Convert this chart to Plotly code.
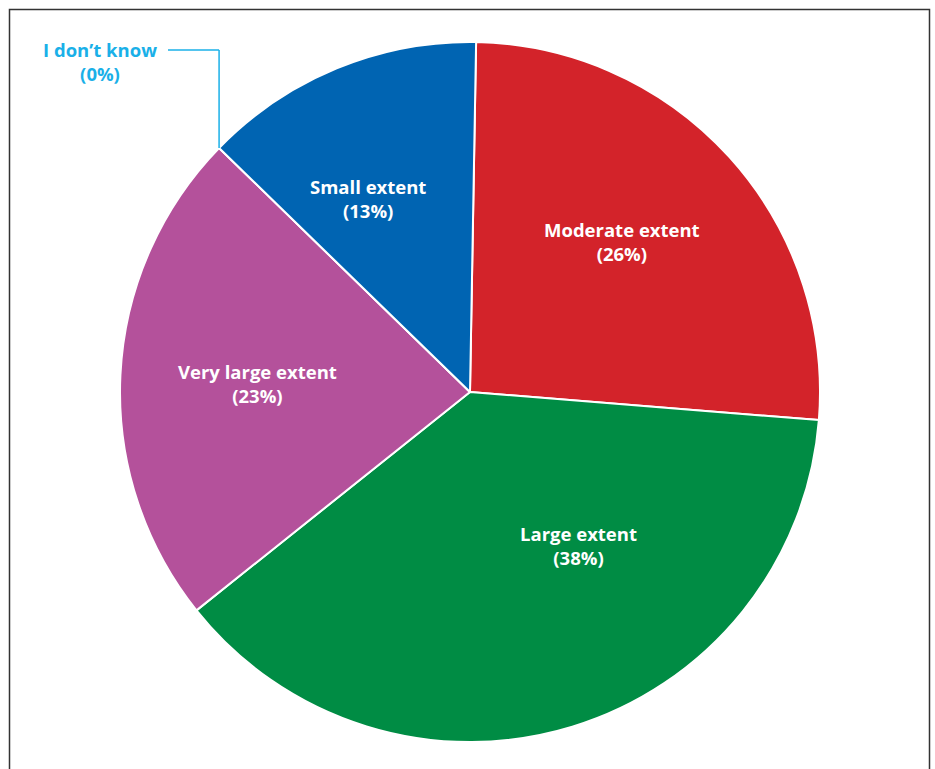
import math
import plotly.graph_objects as go

# Survey responses, in clockwise order from 12 o'clock
categories = ["Moderate extent", "Large extent", "Very large extent", "I don’t know", "Small extent"]
shares = [26, 38, 23, 0, 13]
colors = ["#D3232A", "#008C44", "#B4519B", "#1AB0E8", "#0064B2"]

W, H = 935, 769
start_deg = 1.0
pie_x = [120 / W, 820 / W]
pie_y = [27 / H, 727 / H]

# Label anchor points (pixels from top-left) for each category
label_pos = {
    "Moderate extent": (622, 241),
    "Large extent": (578, 545),
    "Very large extent": (257, 383),
    "I don’t know": (100, 62),
    "Small extent": (368, 199),
}

fig = go.Figure(
    go.Pie(
        labels=categories,
        values=shares,
        sort=False,
        direction="clockwise",
        rotation=start_deg,
        marker=dict(colors=colors, line=dict(color="white", width=2)),
        textinfo="none",
        hoverinfo="label+value",
        showlegend=False,
        domain=dict(x=pie_x, y=pie_y),
    )
)

def px(x):
    return x / W

def py(y):
    return 1 - y / H

# Leader for the zero-share slice: find the boundary angle from the data
total = sum(shares)
zero_idx = shares.index(0)
ang = math.radians(start_deg + 360 * sum(shares[:zero_idx]) / total)
cx = (pie_x[0] + pie_x[1]) / 2 * W
cy = H - (pie_y[0] + pie_y[1]) / 2 * H
R = (pie_x[1] - pie_x[0]) * W / 2
ex = cx + R * math.sin(ang)
ey = cy - R * math.cos(ang)
elbow_y = 50
line_start_x = 168

shapes = [
    dict(type="line", xref="paper", yref="paper",
         x0=px(line_start_x), y0=py(elbow_y), x1=px(ex), y1=py(elbow_y),
         line=dict(color="#1AB0E8", width=1.5)),
    dict(type="line", xref="paper", yref="paper",
         x0=px(ex), y0=py(elbow_y), x1=px(ex), y1=py(ey),
         line=dict(color="#1AB0E8", width=1.5)),
    # outer frame
    dict(type="rect", xref="paper", yref="paper",
         x0=px(9.5), y0=py(9.5), x1=px(929.5), y1=py(790),
         line=dict(color="#333333", width=1.5)),
]

annotations = []
for cat, val in zip(categories, shares):
    x, y = label_pos[cat]
    col = "#1AB0E8" if val == 0 else "white"
    annotations.append(
        dict(xref="paper", yref="paper", x=px(x), y=py(y),
             text=f"{cat}<br>({val}%)",
             showarrow=False, xanchor="center", yanchor="middle", align="center",
             font=dict(family="Open Sans", size=18.5, color=col, weight=700))
    )

fig.update_layout(
    width=W, height=H,
    margin=dict(l=0, r=0, t=0, b=0),
    paper_bgcolor="white",
    plot_bgcolor="white",
    shapes=shapes,
    annotations=annotations,
)

fig.write_html("out.html")
